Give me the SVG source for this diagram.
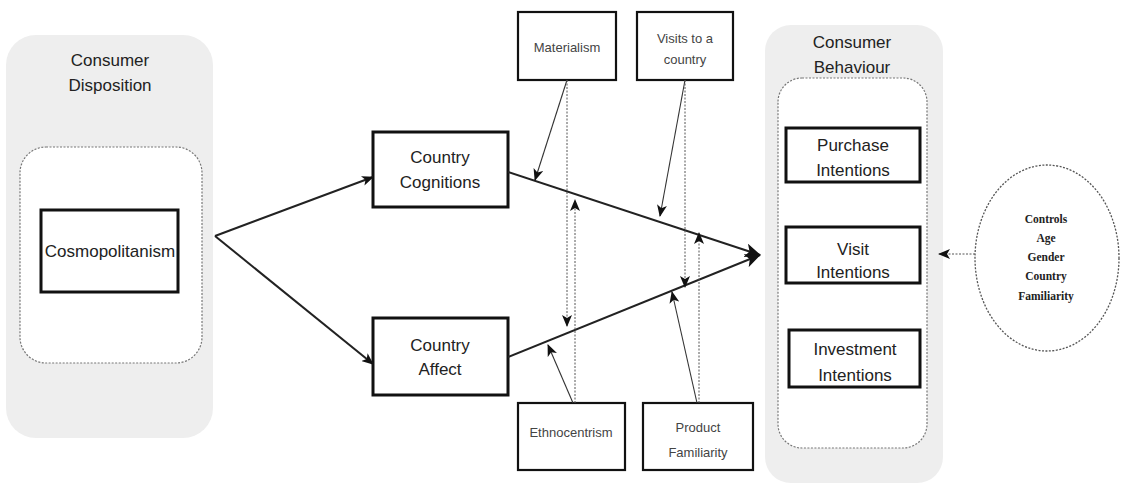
<svg xmlns="http://www.w3.org/2000/svg" width="1140" height="498" viewBox="0 0 1140 498">
<style>
.panel{fill:#eeeeee;stroke:none}
.inner{fill:#ffffff;stroke:#777;stroke-width:1.2;stroke-dasharray:2 1.5}
.thick{fill:#fff;stroke:#111;stroke-width:3}
.mod{fill:#fff;stroke:#111;stroke-width:2.2}
.t{font-family:"Liberation Sans",Arial,sans-serif;font-size:17px;fill:#222;text-anchor:middle}
.s{font-family:"Liberation Sans",Arial,sans-serif;font-size:13px;fill:#444;text-anchor:middle}
.c{font-family:"Liberation Serif","Times New Roman",serif;font-size:11.5px;font-weight:bold;fill:#222;text-anchor:middle}
.main{stroke:#222;stroke-width:2;fill:none}
.thin{stroke:#333;stroke-width:1.1;fill:none}
.dash{stroke:#555;stroke-width:1;stroke-dasharray:2 1.5;fill:none}
</style>
<defs>
<marker id="ah" markerUnits="userSpaceOnUse" markerWidth="12" markerHeight="10" refX="11" refY="5" orient="auto">
<path d="M0,0 L12,5 L0,10 L3,5 z" fill="#111"/>
</marker>
<marker id="ahb" markerUnits="userSpaceOnUse" markerWidth="16" markerHeight="14" refX="15" refY="7" orient="auto">
<path d="M0,0 L16,7 L0,14 L4,7 z" fill="#111"/>
</marker>
</defs>
<rect width="1140" height="498" fill="#fff"/>

<g id="consumer-disposition">
<rect class="panel" x="6" y="35" width="207" height="403" rx="30"/>
<text class="t" x="110" y="66">Consumer</text>
<text class="t" x="110" y="91">Disposition</text>
<rect class="inner" x="20" y="147" width="182" height="216" rx="26"/>
</g>
<g id="cosmopolitanism">
<rect class="thick" x="41" y="210" width="137" height="82"/>
<text class="t" x="110" y="257">Cosmopolitanism</text>
</g>

<g id="consumer-behaviour">
<rect class="panel" x="765" y="25" width="178" height="458" rx="26"/>
<text class="t" x="852" y="48">Consumer</text>
<text class="t" x="852" y="73">Behaviour</text>
<rect class="inner" x="778" y="78" width="149" height="370" rx="24"/>
</g>
<g id="purchase-intentions">
<rect class="thick" x="786" y="128" width="134" height="54"/>
<text class="t" x="853" y="151">Purchase</text>
<text class="t" x="853" y="176">Intentions</text>
</g>
<g id="visit-intentions">
<rect class="thick" x="786" y="227" width="134" height="56"/>
<text class="t" x="853" y="255">Visit</text>
<text class="t" x="853" y="278">Intentions</text>
</g>
<g id="investment-intentions">
<rect class="thick" x="789" y="330" width="131" height="57"/>
<text class="t" x="855" y="355">Investment</text>
<text class="t" x="855" y="381">Intentions</text>
</g>

<g id="country-cognitions">
<rect class="thick" x="373" y="132" width="135" height="75"/>
<text class="t" x="440" y="163">Country</text>
<text class="t" x="440" y="188">Cognitions</text>
</g>
<g id="country-affect">
<rect class="thick" x="373" y="318" width="135" height="77"/>
<text class="t" x="440" y="351">Country</text>
<text class="t" x="440" y="375">Affect</text>
</g>

<g id="materialism">
<rect class="mod" x="518" y="12" width="98" height="68"/>
<text class="s" x="567" y="52">Materialism</text>
</g>
<g id="visits-to-a-country">
<rect class="mod" x="637" y="12" width="96" height="68"/>
<text class="s" x="685" y="43">Visits to a</text>
<text class="s" x="685" y="64">country</text>
</g>
<g id="ethnocentrism">
<rect class="mod" x="518" y="403" width="107" height="67"/>
<text class="s" x="571" y="437">Ethnocentrism</text>
</g>
<g id="product-familiarity">
<rect class="mod" x="643" y="403" width="110" height="67"/>
<text class="s" x="698" y="432">Product</text>
<text class="s" x="698" y="457">Familiarity</text>
</g>

<g id="controls">
<ellipse cx="1047" cy="258" rx="72" ry="93" fill="#fff" stroke="#555" stroke-width="1.3" stroke-dasharray="2 1.5"/>
<text class="c" x="1046" y="223">Controls</text>
<text class="c" x="1046" y="242">Age</text>
<text class="c" x="1046" y="261">Gender</text>
<text class="c" x="1046" y="280">Country</text>
<text class="c" x="1046" y="300">Familiarity</text>
</g>

<g id="connectors">
<path class="main" d="M215,236 L373,177" marker-end="url(#ah)"/>
<path class="main" d="M215,236 L373,364" marker-end="url(#ah)"/>
<path class="main" d="M508,172 L760,255" marker-end="url(#ahb)"/>
<path class="main" d="M508,357 L760,255" marker-end="url(#ahb)"/>
<path class="thin" d="M567,80 L535,180" marker-end="url(#ah)"/>
<path class="dash" d="M567,80 L567,326" marker-end="url(#ah)"/>
<path class="dash" d="M575,403 L575,200" marker-end="url(#ah)"/>
<path class="thin" d="M573,403 L548,345" marker-end="url(#ah)"/>
<path class="thin" d="M685,80 L660,216" marker-end="url(#ah)"/>
<path class="dash" d="M685,80 L685,287" marker-end="url(#ah)"/>
<path class="dash" d="M699,403 L699,233" marker-end="url(#ah)"/>
<path class="thin" d="M697,403 L672,292" marker-end="url(#ah)"/>
<path class="dash" d="M975,254 L939,254" marker-end="url(#ah)"/>
</g>
</svg>
